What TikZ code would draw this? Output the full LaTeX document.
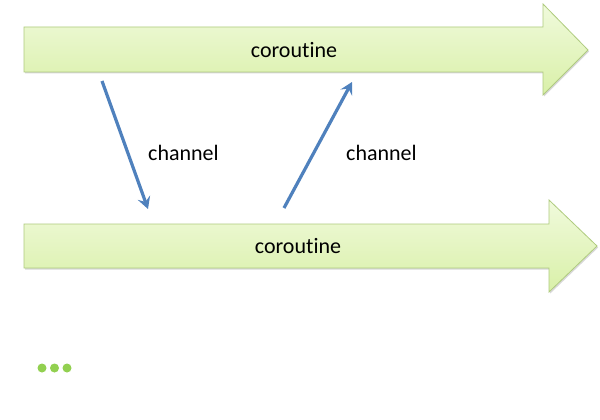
\documentclass[tikz,border=0pt]{standalone}
\usepackage{fontspec}
\setmainfont{Carlito}[Ligatures=NoCommon]
\usetikzlibrary{arrows.meta,shadows}
\definecolor{flowtop}{HTML}{F0FADC}
\definecolor{flowbot}{HTML}{D9F0A8}
\definecolor{flowedge}{HTML}{AFCB7E}
\definecolor{chanblue}{HTML}{4F81BD}
\definecolor{dotgreen}{HTML}{92D050}
\tikzset{
  flowarrow/.style={draw=flowedge, line width=0.8pt, top color=flowtop, bottom color=flowbot,
    drop shadow={shadow xshift=1.2pt, shadow yshift=-1.5pt, opacity=0.25, fill=black!60}},
  lbl/.style={font=\fontsize{22}{26}\selectfont, text=black, inner sep=0pt},
  chan/.style={draw=chanblue, line width=3.2pt, -{Stealth[length=12pt,width=13pt,inset=4.5pt]}},
  dotmark/.style={fill=dotgreen, draw=none}
}
\begin{document}
\begin{tikzpicture}[x=1pt,y=-1pt]
\useasboundingbox (0,0) rectangle (600,420);
\fill[white] (0,0) rectangle (600,420);
% top coroutine arrow
\path[flowarrow] (24,27) -- (543,27) -- (543,4) -- (588,50) -- (543,95) -- (543,72) -- (24,72) -- cycle;
\node[lbl] (co1) at (294,50) {coroutine};
% bottom coroutine arrow
\path[flowarrow] (24,224) -- (549,224) -- (549,200) -- (597,246) -- (549,292) -- (549,268) -- (24,268) -- cycle;
\node[lbl] (co2) at (298,246) {coroutine};
% channel connectors
\coordinate (a1s) at (102,81);
\coordinate (a1e) at (148,209);
\coordinate (a2s) at (284,208);
\coordinate (a2e) at (352,82);
\draw[chan] (a1s) -- (a1e);
\draw[chan] (a2s) -- (a2e);
\node[lbl, anchor=west] (ch1) at (148,153) {channel};
\node[lbl, anchor=west] (ch2) at (346,153) {channel};
% dots
\fill[dotmark] (42,368) circle (4.5) (54.5,368) circle (4.5) (67,368) circle (4.5);
\end{tikzpicture}
\end{document}
